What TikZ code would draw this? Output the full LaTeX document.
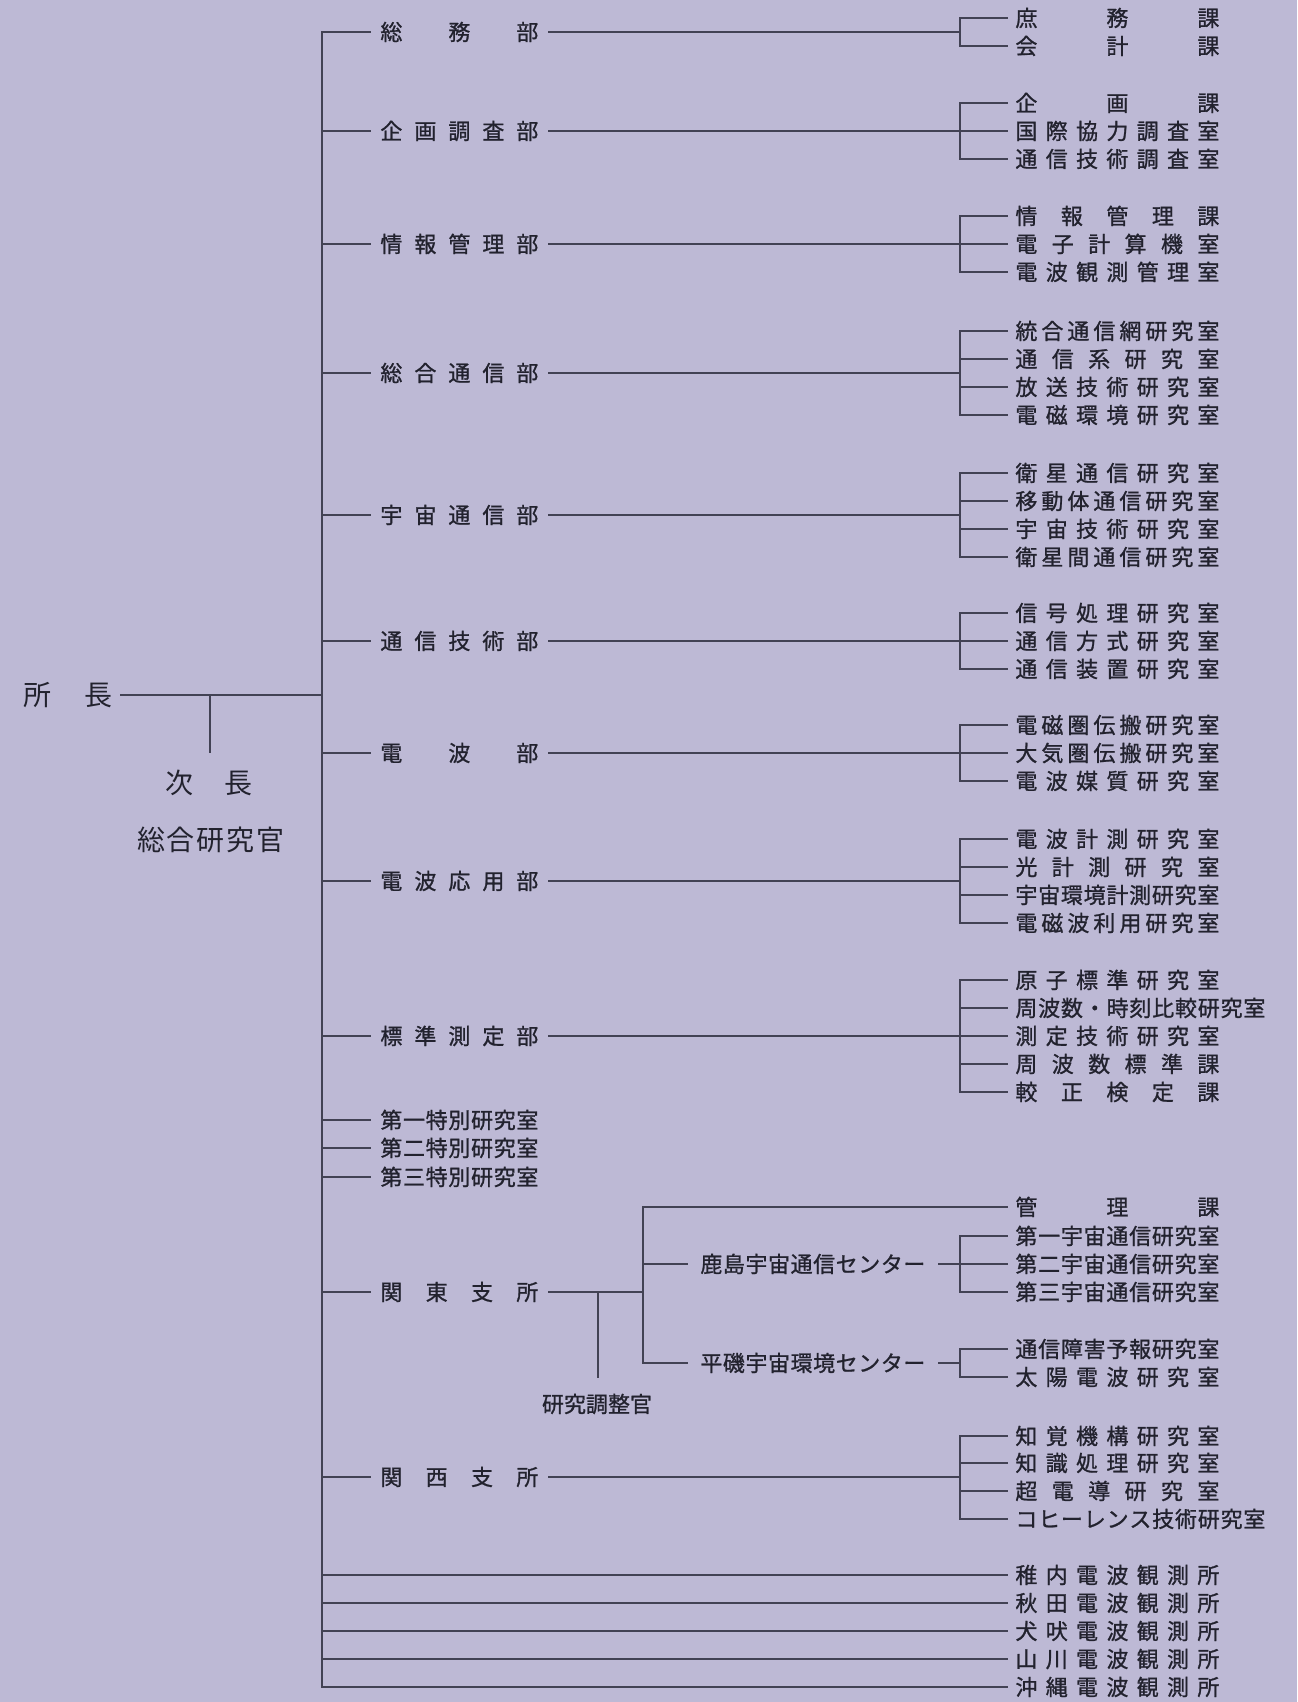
\documentclass[tikz,border=0pt]{standalone}
\usepackage{fontspec}
\newfontfamily\jp{Noto Sans CJK JP}
\newfontfamily\jpb[FakeBold=1]{Noto Sans CJK JP}
\definecolor{bg}{RGB}{189,185,213}
\definecolor{ink}{RGB}{34,34,46}
\definecolor{ln}{RGB}{66,66,84}
\newcommand{\jfit}[2]{{\spaceskip=0pt plus 1fil\relax\makebox[#1][s]{#2}}}
\tikzset{
  item/.style={anchor=west, inner xsep=4pt, inner ysep=0pt, text=ink,
    font=\jpb\fontsize{11pt}{13pt}\selectfont, text height=9.1pt, text depth=0.8pt},
  dept/.style={item, inner xsep=5pt},
  ctr/.style={item, inner xsep=6.5pt},
  big/.style={anchor=west, inner xsep=4pt, inner ysep=0pt, text=ink,
    font=\jp\fontsize{14pt}{16pt}\selectfont, text height=11.6pt, text depth=1pt},
  conn/.style={draw=ln, line width=0.7pt, line cap=rect},
}
\begin{document}
\begin{tikzpicture}[x=0.5pt,y=-0.5pt]
\fill[bg] (0,0) rectangle (1297,1702);
\coordinate (mtop) at (322,32);
\coordinate (mbot) at (322,1687);
\coordinate (bx) at (960,0);
\coordinate (kx) at (643,0);
% top-left
\node[big] (shocho) at (15,695) {\jfit{44.5pt}{所 長}};
\node[big, anchor=center] (jicho) at (209,783) {\jfit{44pt}{次 長}};
\node[big, anchor=center] (sogo) at (211,840) {\jfit{74pt}{総 合 研 究 官}};
\coordinate (jtend) at (210,752);
\draw[conn] (shocho.east) -- (shocho.east -| mtop);
\draw[conn] (jtend |- shocho.east) -- (jtend);
\draw[conn] (mtop) -- (mbot);
% departments
\node[dept] (dA) at (370,32) {\jfit{79pt}{総 務 部}};
\node[dept] (dB) at (370,131) {\jfit{79pt}{企 画 調 査 部}};
\node[dept] (dC) at (370,244) {\jfit{79pt}{情 報 管 理 部}};
\node[dept] (dD) at (370,373) {\jfit{79pt}{総 合 通 信 部}};
\node[dept] (dE) at (370,515) {\jfit{79pt}{宇 宙 通 信 部}};
\node[dept] (dF) at (370,641) {\jfit{79pt}{通 信 技 術 部}};
\node[dept] (dG) at (370,753) {\jfit{79pt}{電 波 部}};
\node[dept] (dH) at (370,881) {\jfit{79pt}{電 波 応 用 部}};
\node[dept] (dI) at (370,1036) {\jfit{79pt}{標 準 測 定 部}};
\node[dept] (s1) at (370,1120) {\jfit{79pt}{第 一 特 別 研 究 室}};
\node[dept] (s2) at (370,1148) {\jfit{79pt}{第 二 特 別 研 究 室}};
\node[dept] (s3) at (370,1177) {\jfit{79pt}{第 三 特 別 研 究 室}};
\node[dept] (dK) at (370,1292) {\jfit{79pt}{関 東 支 所}};
\node[dept] (dW) at (370,1477) {\jfit{79pt}{関 西 支 所}};
\foreach \d in {dA,dB,dC,dD,dE,dF,dG,dH,dI,s1,s2,s3,dK,dW}
  \draw[conn] (\d.west -| mtop) -- (\d.west);
\foreach \d in {dA,dB,dC,dD,dE,dF,dG,dH,dI,dW}
  \draw[conn] (\d.east) -- (\d.east -| bx);
% sections
\node[item] (a1) at (1007,18) {\jfit{102pt}{庶 務 課}};
\node[item] (a2) at (1007,46) {\jfit{102pt}{会 計 課}};
\node[item] (b1) at (1007,103) {\jfit{102pt}{企 画 課}};
\node[item] (b2) at (1007,131) {\jfit{102pt}{国 際 協 力 調 査 室}};
\node[item] (b3) at (1007,159) {\jfit{102pt}{通 信 技 術 調 査 室}};
\node[item] (c1) at (1007,216) {\jfit{102pt}{情 報 管 理 課}};
\node[item] (c2) at (1007,244) {\jfit{102pt}{電 子 計 算 機 室}};
\node[item] (c3) at (1007,272) {\jfit{102pt}{電 波 観 測 管 理 室}};
\node[item] (e1) at (1007,331) {\jfit{102pt}{統 合 通 信 網 研 究 室}};
\node[item] (e2) at (1007,359) {\jfit{102pt}{通 信 系 研 究 室}};
\node[item] (e3) at (1007,387) {\jfit{102pt}{放 送 技 術 研 究 室}};
\node[item] (e4) at (1007,415) {\jfit{102pt}{電 磁 環 境 研 究 室}};
\node[item] (f1) at (1007,473) {\jfit{102pt}{衛 星 通 信 研 究 室}};
\node[item] (f2) at (1007,501) {\jfit{102pt}{移 動 体 通 信 研 究 室}};
\node[item] (f3) at (1007,529) {\jfit{102pt}{宇 宙 技 術 研 究 室}};
\node[item] (f4) at (1007,557) {\jfit{102pt}{衛 星 間 通 信 研 究 室}};
\node[item] (g1) at (1007,613) {\jfit{102pt}{信 号 処 理 研 究 室}};
\node[item] (g2) at (1007,641) {\jfit{102pt}{通 信 方 式 研 究 室}};
\node[item] (g3) at (1007,669) {\jfit{102pt}{通 信 装 置 研 究 室}};
\node[item] (h1) at (1007,725) {\jfit{102pt}{電 磁 圏 伝 搬 研 究 室}};
\node[item] (h2) at (1007,753) {\jfit{102pt}{大 気 圏 伝 搬 研 究 室}};
\node[item] (h3) at (1007,781) {\jfit{102pt}{電 波 媒 質 研 究 室}};
\node[item] (i1) at (1007,839) {\jfit{102pt}{電 波 計 測 研 究 室}};
\node[item] (i2) at (1007,867) {\jfit{102pt}{光 計 測 研 究 室}};
\node[item] (i3) at (1007,895) {\jfit{102pt}{宇 宙 環 境 計 測 研 究 室}};
\node[item] (i4) at (1007,923) {\jfit{102pt}{電 磁 波 利 用 研 究 室}};
\node[item] (j1) at (1007,980) {\jfit{102pt}{原 子 標 準 研 究 室}};
\node[item] (j2) at (1007,1008) {\jfit{125pt}{周 波 数 ・ 時 刻 比 較 研 究 室}};
\node[item] (j3) at (1007,1036) {\jfit{102pt}{測 定 技 術 研 究 室}};
\node[item] (j4) at (1007,1064) {\jfit{102pt}{周 波 数 標 準 課}};
\node[item] (j5) at (1007,1092) {\jfit{102pt}{較 正 検 定 課}};
% Kansai
\node[item] (w1) at (1007,1436) {\jfit{102pt}{知 覚 機 構 研 究 室}};
\node[item] (w2) at (1007,1463) {\jfit{102pt}{知 識 処 理 研 究 室}};
\node[item] (w3) at (1007,1491) {\jfit{102pt}{超 電 導 研 究 室}};
\node[item] (w4) at (1007,1519) {\jfit{125pt}{コ ヒ ー レ ン ス 技 術 研 究 室}};
% Kanto
\node[item] (k0) at (1007,1207) {\jfit{102pt}{管 理 課}};
\node[ctr] (kas) at (687,1264) {\jfit{112.5pt}{鹿 島 宇 宙 通 信 セ ン タ ー}};
\node[ctr] (hir) at (687,1363) {\jfit{112.5pt}{平 磯 宇 宙 環 境 セ ン タ ー}};
\node[item] (k1) at (1007,1236) {\jfit{102pt}{第 一 宇 宙 通 信 研 究 室}};
\node[item] (k2) at (1007,1264) {\jfit{102pt}{第 二 宇 宙 通 信 研 究 室}};
\node[item] (k3) at (1007,1292) {\jfit{102pt}{第 三 宇 宙 通 信 研 究 室}};
\node[item] (m1) at (1007,1349) {\jfit{102pt}{通 信 障 害 予 報 研 究 室}};
\node[item] (m2) at (1007,1377) {\jfit{102pt}{太 陽 電 波 研 究 室}};
\node[item, anchor=center] (kcho) at (597,1404) {研究調整官};
\coordinate (ktend) at (598,1377);
\draw[conn] (dK.east) -- (dK.east -| kx);
\draw[conn] (k0.west -| kx) -- (hir.west -| kx);
\draw[conn] (k0.west -| kx) -- (k0.west);
\draw[conn] (kas.west -| kx) -- (kas.west);
\draw[conn] (hir.west -| kx) -- (hir.west);
\draw[conn] (kas.east) -- (kas.east -| bx);
\draw[conn] (hir.east) -- (hir.east -| bx);
\draw[conn] (ktend |- dK.east) -- (ktend);
% brackets
\draw[conn] (a1.west -| bx) -- (a2.west -| bx);
\draw[conn] (b1.west -| bx) -- (b3.west -| bx);
\draw[conn] (c1.west -| bx) -- (c3.west -| bx);
\draw[conn] (e1.west -| bx) -- (e4.west -| bx);
\draw[conn] (f1.west -| bx) -- (f4.west -| bx);
\draw[conn] (g1.west -| bx) -- (g3.west -| bx);
\draw[conn] (h1.west -| bx) -- (h3.west -| bx);
\draw[conn] (i1.west -| bx) -- (i4.west -| bx);
\draw[conn] (j1.west -| bx) -- (j5.west -| bx);
\draw[conn] (k1.west -| bx) -- (k3.west -| bx);
\draw[conn] (m1.west -| bx) -- (m2.west -| bx);
\draw[conn] (w1.west -| bx) -- (w4.west -| bx);
\foreach \n in {a1,a2,b1,b2,b3,c1,c2,c3,e1,e2,e3,e4,f1,f2,f3,f4,g1,g2,g3,h1,h2,h3,i1,i2,i3,i4,j1,j2,j3,j4,j5,k1,k2,k3,m1,m2,w1,w2,w3,w4}
  \draw[conn] (\n.west -| bx) -- (\n.west);
% observatories
\node[item] (o1) at (1007,1575) {\jfit{102pt}{稚 内 電 波 観 測 所}};
\node[item] (o2) at (1007,1603) {\jfit{102pt}{秋 田 電 波 観 測 所}};
\node[item] (o3) at (1007,1631) {\jfit{102pt}{犬 吠 電 波 観 測 所}};
\node[item] (o4) at (1007,1659) {\jfit{102pt}{山 川 電 波 観 測 所}};
\node[item] (o5) at (1007,1687) {\jfit{102pt}{沖 縄 電 波 観 測 所}};
\foreach \n in {o1,o2,o3,o4,o5}
  \draw[conn] (\n.west -| mtop) -- (\n.west);
\end{tikzpicture}
\end{document}
